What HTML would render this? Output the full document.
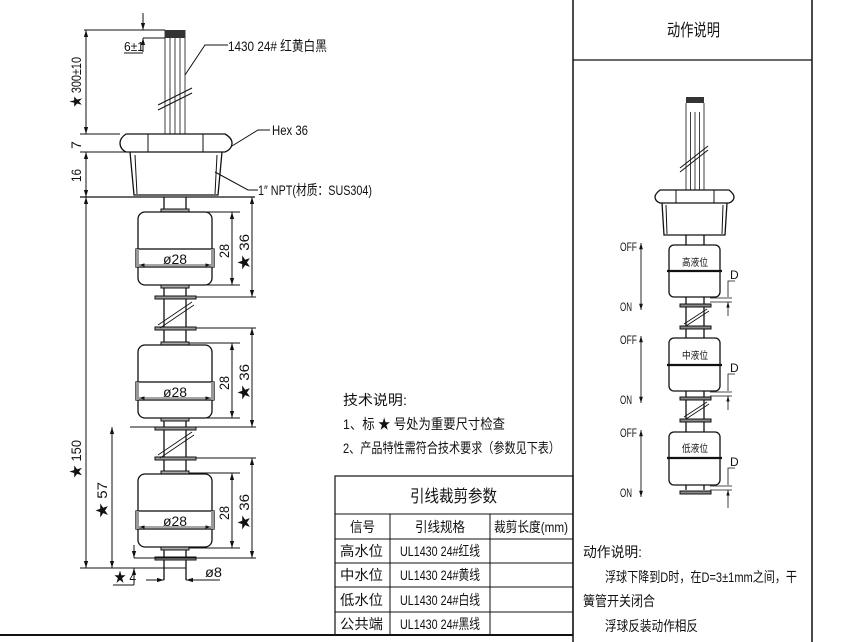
<!DOCTYPE html>
<html><head><meta charset="utf-8"><style>
html,body{margin:0;padding:0;background:#fff}
svg{display:block}
text{font-family:"Liberation Sans","Noto Sans CJK SC",sans-serif;fill:#111}
</style></head><body>
<svg width="849" height="642" viewBox="0 0 849 642" xmlns="http://www.w3.org/2000/svg">
<defs>
<marker id="a" viewBox="0 0 10 10" refX="10" refY="5" markerWidth="7" markerHeight="7" orient="auto-start-reverse"><path d="M0,2 L10,5 L0,8z" fill="#111"/></marker>
</defs>
<g stroke="#111" fill="none" stroke-width="1">
<line x1="573" y1="0" x2="573" y2="642" stroke-width="1.5"/>
<line x1="812" y1="0" x2="812" y2="642" stroke-width="1.5"/>
<line x1="573" y1="60" x2="812" y2="60" stroke-width="1.2"/>
<line x1="0" y1="635" x2="573" y2="635" stroke-width="2"/>
<rect x="335" y="476" width="238" height="159" stroke-width="1.2"/>
<line x1="335" y1="514" x2="573" y2="514"/>
<line x1="335" y1="539" x2="573" y2="539"/>
<line x1="335" y1="563" x2="573" y2="563"/>
<line x1="335" y1="587" x2="573" y2="587"/>
<line x1="335" y1="612" x2="573" y2="612"/>
<line x1="390" y1="514" x2="390" y2="635"/>
<line x1="490" y1="514" x2="490" y2="635"/>

<g stroke-width="0.8"><line x1="165" y1="30" x2="165" y2="134"/><line x1="170" y1="30" x2="170" y2="134"/><line x1="175" y1="30" x2="175" y2="134"/><line x1="180" y1="30" x2="180" y2="134"/><line x1="185" y1="30" x2="185" y2="134"/></g>
<rect x="165" y="30" width="20" height="8" fill="#333" stroke="none"/>
<line x1="158" y1="105" x2="192" y2="88"/><line x1="158" y1="110" x2="192" y2="93"/>
<line x1="84" y1="30" x2="165" y2="30"/>
<line x1="143" y1="38" x2="165" y2="38"/>
<line x1="143" y1="13" x2="143" y2="30" marker-end="url(#a)"/>
<line x1="143" y1="52" x2="143" y2="38" marker-end="url(#a)"/>
<line x1="124" y1="53" x2="143" y2="53"/>
<line x1="86" y1="30" x2="86" y2="134" marker-start="url(#a)" marker-end="url(#a)"/>
<line x1="80" y1="134" x2="120" y2="134"/>
<line x1="80" y1="152" x2="130" y2="152"/>
<line x1="86" y1="152" x2="86" y2="197" marker-start="url(#a)" marker-end="url(#a)"/>
<path d="M126,134 L225,134 Q232,138 232,143 Q232,149 225,152 L126,152 Q120,149 120,143 Q120,138 126,134z" stroke-width="1.3"/>
<line x1="148" y1="134" x2="148" y2="152"/><line x1="203" y1="134" x2="203" y2="152"/>
<path d="M130,152 L134,195 L218,195 L222,152" stroke-width="1.3"/>
<line x1="135" y1="155" x2="137" y2="194"/><line x1="217" y1="155" x2="215" y2="194"/>
<line x1="80" y1="197" x2="255" y2="197" stroke-width="1.2"/>
<polyline points="228,45 205,45 185,75" /><polyline points="270,130 258,130 232,146"/><polyline points="258,190 248,190 215,172"/>

<line x1="164" y1="197" x2="164" y2="580" stroke-width="1.3"/>
<line x1="186" y1="197" x2="186" y2="580" stroke-width="1.3"/>

<g>
<rect x="161" y="209" width="28" height="4" fill="#aaa"/>
<rect x="138" y="212" width="74" height="73" rx="7" fill="#fff" stroke-width="1.3"/>
<rect x="136" y="249" width="78" height="18" fill="#fff" stroke-width="1.3"/>
<rect x="136" y="249" width="3" height="18" fill="#999" stroke="none"/><rect x="211" y="249" width="3" height="18" fill="#999" stroke="none"/>
<line x1="139" y1="265" x2="211" y2="265" marker-start="url(#a)" marker-end="url(#a)" stroke-width="0.8"/>
<rect x="161" y="285" width="28" height="3" fill="#aaa"/>
</g>
<g transform="translate(0,133)">
<rect x="161" y="209" width="28" height="4" fill="#aaa"/>
<rect x="138" y="212" width="74" height="73" rx="7" fill="#fff" stroke-width="1.3"/>
<rect x="136" y="249" width="78" height="18" fill="#fff" stroke-width="1.3"/>
<rect x="136" y="249" width="3" height="18" fill="#999" stroke="none"/><rect x="211" y="249" width="3" height="18" fill="#999" stroke="none"/>
<line x1="139" y1="265" x2="211" y2="265" marker-start="url(#a)" marker-end="url(#a)" stroke-width="0.8"/>
<rect x="161" y="285" width="28" height="3" fill="#aaa"/>
</g>
<g transform="translate(0,262)">
<rect x="161" y="209" width="28" height="4" fill="#aaa"/>
<rect x="138" y="212" width="74" height="73" rx="7" fill="#fff" stroke-width="1.3"/>
<rect x="136" y="249" width="78" height="18" fill="#fff" stroke-width="1.3"/>
<rect x="136" y="249" width="3" height="18" fill="#999" stroke="none"/><rect x="211" y="249" width="3" height="18" fill="#999" stroke="none"/>
<line x1="139" y1="265" x2="211" y2="265" marker-start="url(#a)" marker-end="url(#a)" stroke-width="0.8"/>
<rect x="161" y="285" width="28" height="3" fill="#aaa"/>
</g>
<g fill="#999">
<rect x="155" y="296" width="41" height="3"/><rect x="155" y="327" width="41" height="3"/>
<rect x="155" y="427" width="41" height="3"/><rect x="155" y="457" width="41" height="3"/>
<rect x="155" y="557" width="41" height="3"/>
</g>
<line x1="158" y1="325" x2="192" y2="302" stroke-width="0.8"/><line x1="160" y1="328" x2="194" y2="305" stroke-width="0.8"/>
<line x1="158" y1="455" x2="192" y2="432" stroke-width="0.8"/><line x1="160" y1="458" x2="194" y2="435" stroke-width="0.8"/>
<line x1="189" y1="212" x2="240" y2="212"/><line x1="189" y1="285" x2="240" y2="285"/>
<line x1="232" y1="212" x2="232" y2="285" marker-start="url(#a)" marker-end="url(#a)"/>
<line x1="196" y1="297" x2="256" y2="297"/>
<line x1="252" y1="197" x2="252" y2="297" marker-start="url(#a)" marker-end="url(#a)"/>
<line x1="189" y1="343" x2="240" y2="343"/><line x1="189" y1="418" x2="240" y2="418"/>
<line x1="232" y1="343" x2="232" y2="418" marker-start="url(#a)" marker-end="url(#a)"/>
<line x1="196" y1="328" x2="256" y2="328"/><line x1="130" y1="427" x2="256" y2="427"/>
<line x1="252" y1="328" x2="252" y2="427" marker-start="url(#a)" marker-end="url(#a)"/>
<line x1="189" y1="473" x2="240" y2="473"/><line x1="189" y1="548" x2="240" y2="548"/>
<line x1="232" y1="473" x2="232" y2="548" marker-start="url(#a)" marker-end="url(#a)"/>
<line x1="196" y1="458" x2="256" y2="458"/><line x1="134" y1="558" x2="256" y2="558"/>
<line x1="252" y1="458" x2="252" y2="558" marker-start="url(#a)" marker-end="url(#a)"/>
<line x1="86" y1="197" x2="86" y2="568" marker-start="url(#a)" marker-end="url(#a)"/>
<line x1="112" y1="427" x2="112" y2="568" marker-start="url(#a)" marker-end="url(#a)"/>
<line x1="80" y1="568" x2="186" y2="568"/>
<line x1="134" y1="545" x2="134" y2="558" marker-end="url(#a)"/>
<line x1="134" y1="585" x2="134" y2="568" marker-end="url(#a)"/>
<polyline points="113,585 134,585"/>
<line x1="146" y1="580" x2="164" y2="580" marker-end="url(#a)"/>
<line x1="204" y1="580" x2="186" y2="580" marker-end="url(#a)"/>
<line x1="204" y1="580" x2="220" y2="580"/>

<g stroke-width="0.8"><line x1="686" y1="112" x2="686" y2="190"/><line x1="690.5" y1="112" x2="690.5" y2="190"/><line x1="695" y1="112" x2="695" y2="190"/><line x1="699.5" y1="112" x2="699.5" y2="190"/><line x1="704" y1="112" x2="704" y2="190"/></g>
<rect x="686" y="97" width="18" height="6" fill="#333" stroke="none"/>
<line x1="686" y1="103" x2="686" y2="112" stroke-width="0.8"/><line x1="704" y1="103" x2="704" y2="112" stroke-width="0.8"/>
<line x1="680" y1="168" x2="708" y2="146"/><line x1="680" y1="172" x2="708" y2="150"/>
<path d="M660,190 L729,190 Q734,194 734,197 Q734,201 729,203 L660,203 Q655,201 655,197 Q655,194 660,190z" stroke-width="1.3"/>
<line x1="676" y1="190" x2="676" y2="203"/><line x1="714" y1="190" x2="714" y2="203"/>
<path d="M662,203 L664,235 L725,235 L727,203" stroke-width="1.3"/>
<line x1="666" y1="205" x2="667" y2="234"/><line x1="723" y1="205" x2="722" y2="234"/>
<line x1="686" y1="235" x2="686" y2="490" stroke-width="1.3"/><line x1="704" y1="235" x2="704" y2="490" stroke-width="1.3"/>
<g fill="#fff" stroke-width="1.3">
<rect x="669" y="245" width="51" height="52" rx="5"/><rect x="669" y="338" width="51" height="53" rx="5"/><rect x="669" y="432" width="51" height="53" rx="5"/>
</g>
<g stroke-width="2.2"><line x1="667" y1="271" x2="722" y2="271"/><line x1="667" y1="365" x2="722" y2="365"/><line x1="667" y1="458" x2="722" y2="458"/></g>
<g fill="#888"><rect x="680" y="304" width="31" height="3"/><rect x="680" y="326" width="31" height="3"/><rect x="680" y="397" width="31" height="3"/><rect x="680" y="419" width="31" height="3"/><rect x="680" y="491" width="31" height="3"/></g>
<line x1="684" y1="324" x2="707" y2="309" stroke-width="0.8"/><line x1="686" y1="326" x2="709" y2="311" stroke-width="0.8"/>
<line x1="684" y1="417" x2="707" y2="402" stroke-width="0.8"/><line x1="686" y1="419" x2="709" y2="404" stroke-width="0.8"/>
<g stroke-width="0.9">
<line x1="641" y1="243" x2="641" y2="310" marker-start="url(#a)" marker-end="url(#a)"/>
<line x1="641" y1="336" x2="641" y2="403" marker-start="url(#a)" marker-end="url(#a)"/>
<line x1="641" y1="430" x2="641" y2="497" marker-start="url(#a)" marker-end="url(#a)"/>
</g>
<g stroke-width="0.8">
<polyline points="735,281 728,281 728,297"/><line x1="710" y1="298" x2="732" y2="298"/><line x1="710" y1="302" x2="732" y2="302"/><line x1="728" y1="316" x2="728" y2="302" marker-end="url(#a)"/>
<polyline points="735,374 728,374 728,391"/><line x1="710" y1="392" x2="732" y2="392"/><line x1="710" y1="396" x2="732" y2="396"/><line x1="728" y1="410" x2="728" y2="396" marker-end="url(#a)"/>
<polyline points="735,468 728,468 728,485"/><line x1="710" y1="486" x2="732" y2="486"/><line x1="710" y1="490" x2="732" y2="490"/><line x1="728" y1="508" x2="728" y2="490" marker-end="url(#a)"/>
</g>
</g>

<g font-size="14" lengthAdjust="spacingAndGlyphs">
<text x="124" y="51" font-size="13" textLength="20" lengthAdjust="spacingAndGlyphs">6±1</text>
<text x="228" y="51" textLength="99" lengthAdjust="spacingAndGlyphs">1430 24# 红黄白黑</text>
<text x="272" y="135" textLength="36" lengthAdjust="spacingAndGlyphs">Hex 36</text>
<text x="258" y="195" textLength="114" lengthAdjust="spacingAndGlyphs">1″ NPT(材质：SUS304)</text>
<text transform="translate(81,107) rotate(-90)" textLength="50" lengthAdjust="spacingAndGlyphs">★ 300±10</text>
<text transform="translate(81,149) rotate(-90)">7</text>
<text transform="translate(81,182) rotate(-90)" textLength="13" lengthAdjust="spacingAndGlyphs">16</text>
<text transform="translate(81,478) rotate(-90)" textLength="38" lengthAdjust="spacingAndGlyphs">★ 150</text>
<text transform="translate(107,518) rotate(-90)" textLength="36" lengthAdjust="spacingAndGlyphs">★ 57</text>
<text x="114" y="582" textLength="22" lengthAdjust="spacingAndGlyphs">★ 4</text>
<text x="205" y="577" textLength="17" lengthAdjust="spacingAndGlyphs">ø8</text>
<text x="163" y="264" textLength="24" lengthAdjust="spacingAndGlyphs">ø28</text><text x="163" y="397" textLength="24" lengthAdjust="spacingAndGlyphs">ø28</text><text x="163" y="526" textLength="24" lengthAdjust="spacingAndGlyphs">ø28</text>
<text transform="translate(229,258) rotate(-90)" textLength="14" lengthAdjust="spacingAndGlyphs">28</text>
<text transform="translate(249,270) rotate(-90)" textLength="36" lengthAdjust="spacingAndGlyphs">★ 36</text>
<text transform="translate(229,390) rotate(-90)" textLength="14" lengthAdjust="spacingAndGlyphs">28</text>
<text transform="translate(249,400) rotate(-90)" textLength="36" lengthAdjust="spacingAndGlyphs">★ 36</text>
<text transform="translate(229,520) rotate(-90)" textLength="14" lengthAdjust="spacingAndGlyphs">28</text>
<text transform="translate(249,530) rotate(-90)" textLength="36" lengthAdjust="spacingAndGlyphs">★ 36</text>
<text x="343" y="405" textLength="64" lengthAdjust="spacingAndGlyphs">技术说明:</text>
<text x="343" y="429" textLength="162" lengthAdjust="spacingAndGlyphs">1、标 ★ 号处为重要尺寸检查</text>
<text x="343" y="453" textLength="217" lengthAdjust="spacingAndGlyphs">2、产品特性需符合技术要求（参数见下表）</text>
<text x="410" y="502" font-size="17" textLength="87" lengthAdjust="spacingAndGlyphs">引线裁剪参数</text>
<text x="350" y="532" textLength="25" lengthAdjust="spacingAndGlyphs">信号</text>
<text x="415" y="532" textLength="50" lengthAdjust="spacingAndGlyphs">引线规格</text>
<text x="494" y="532" textLength="74" lengthAdjust="spacingAndGlyphs">裁剪长度(mm)</text>
<text x="340" y="556" textLength="43" lengthAdjust="spacingAndGlyphs">高水位</text><text x="400" y="556" textLength="80" lengthAdjust="spacingAndGlyphs">UL1430 24#红线</text>
<text x="340" y="580" textLength="43" lengthAdjust="spacingAndGlyphs">中水位</text><text x="400" y="580" textLength="80" lengthAdjust="spacingAndGlyphs">UL1430 24#黄线</text>
<text x="340" y="605" textLength="43" lengthAdjust="spacingAndGlyphs">低水位</text><text x="400" y="605" textLength="80" lengthAdjust="spacingAndGlyphs">UL1430 24#白线</text>
<text x="340" y="629" textLength="43" lengthAdjust="spacingAndGlyphs">公共端</text><text x="400" y="629" textLength="80" lengthAdjust="spacingAndGlyphs">UL1430 24#黑线</text>
<text x="667" y="36" font-size="17" textLength="53" lengthAdjust="spacingAndGlyphs">动作说明</text>
<text x="620" y="251" font-size="12" textLength="17" lengthAdjust="spacingAndGlyphs">OFF</text><text x="620" y="311" font-size="12" textLength="12" lengthAdjust="spacingAndGlyphs">ON</text>
<text x="620" y="344" font-size="12" textLength="17" lengthAdjust="spacingAndGlyphs">OFF</text><text x="620" y="404" font-size="12" textLength="12" lengthAdjust="spacingAndGlyphs">ON</text>
<text x="620" y="437" font-size="12" textLength="17" lengthAdjust="spacingAndGlyphs">OFF</text><text x="620" y="497" font-size="12" textLength="12" lengthAdjust="spacingAndGlyphs">ON</text>
<text x="682" y="266" font-size="10" textLength="26" lengthAdjust="spacingAndGlyphs" fill="#444">高液位</text>
<text x="682" y="359" font-size="10" textLength="26" lengthAdjust="spacingAndGlyphs" fill="#444">中液位</text>
<text x="682" y="452" font-size="10" textLength="26" lengthAdjust="spacingAndGlyphs" fill="#444">低液位</text>
<text x="730" y="279" font-size="12" font-family="Liberation Serif">D</text><text x="730" y="372" font-size="12" font-family="Liberation Serif">D</text><text x="730" y="466" font-size="12" font-family="Liberation Serif">D</text>
<text x="583" y="557" textLength="59" lengthAdjust="spacingAndGlyphs">动作说明:</text>
<text x="605" y="582" textLength="192" lengthAdjust="spacingAndGlyphs">浮球下降到D时，在D=3±1mm之间，干</text>
<text x="583" y="606" textLength="72" lengthAdjust="spacingAndGlyphs">簧管开关闭合</text>
<text x="605" y="631" textLength="93" lengthAdjust="spacingAndGlyphs">浮球反装动作相反</text>
</g>
</svg>
</body></html>
